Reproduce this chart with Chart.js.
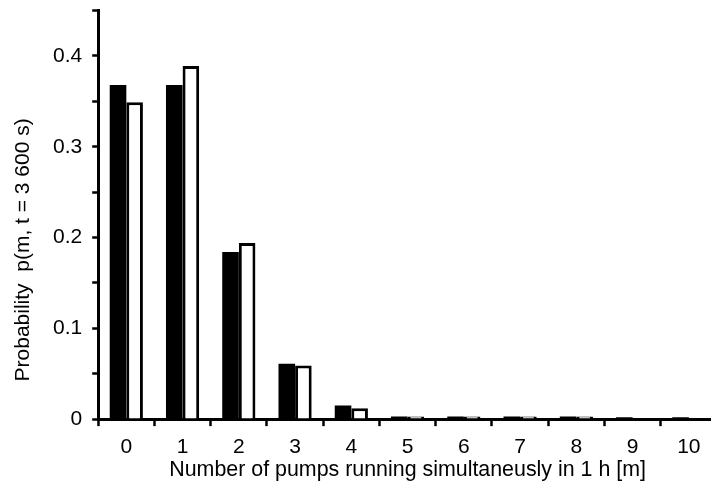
<!DOCTYPE html>
<html>
<head>
<meta charset="utf-8">
<script src="https://cdn.jsdelivr.net/npm/chart.js@4/dist/chart.umd.min.js"></script>
<style>
html,body{margin:0;padding:0;background:#fff;overflow:hidden;}
#wrap{width:711px;height:491px;position:relative;overflow:hidden;}
</style>
</head>
<body>
<div id="wrap"><canvas id="c" width="717" height="491"></canvas></div>
<script>
const categories = ['0','1','2','3','4','5','6','7','8','9','10'];
const seriesBlack = [0.368, 0.368, 0.184, 0.061, 0.015, 0.003, 0.003, 0.003, 0.003, 0.002, 0.002];
const seriesWhite = [0.349, 0.389, 0.194, 0.059, 0.012, 0.003, 0.003, 0.003, 0.003, 0, 0];
const yTickValues = [0, 0.1, 0.2, 0.3, 0.4];
const xTitle = 'Number of pumps running simultaneusly in 1 h [m]';
const yTitle = 'Probability  p(m, t = 3 600 s)';

const FONT = '"Liberation Sans", Arial, sans-serif';
Chart.defaults.font.family = FONT;
Chart.defaults.color = '#000';

function isLabelled(v) {
  const r = Math.round(v * 100) / 100;
  return yTickValues.find(t => Math.abs(t - r) < 1e-9);
}

const yTitlePlugin = {
  id: 'yTitle',
  afterDraw(chart) {
    const ctx = chart.ctx, a = chart.chartArea;
    ctx.save();
    ctx.font = '21px ' + FONT;
    ctx.fillStyle = '#000';
    ctx.textAlign = 'center';
    ctx.textBaseline = 'alphabetic';
    ctx.translate(a.left - 69, (a.top + a.bottom) / 2 + 35);
    ctx.rotate(-Math.PI / 2);
    ctx.fillText(yTitle, 0, 0);
    ctx.restore();
  }
};

new Chart(document.getElementById('c'), {
  type: 'bar',
  data: {
    labels: categories,
    datasets: [
      {data: seriesBlack, backgroundColor: '#000', borderColor: '#000', borderWidth: 0,
       barPercentage: 1.0, categoryPercentage: 0.59},
      {data: seriesWhite, backgroundColor: '#fff', borderColor: '#000', borderWidth: {top:3,left:3,right:3,bottom:0},
       barPercentage: 1.0, categoryPercentage: 0.59}
    ]
  },
  options: {
    responsive: false,
    animation: false,
    layout: {padding: {top: 9, right: 0, left: 43, bottom: 8}},
    plugins: {legend: {display: false}, tooltip: {enabled: false}},
    scales: {
      x: {
        offset: true,
        grid: {offset: true, drawOnChartArea: false, drawTicks: true, tickLength: 7, tickWidth: 2.5, color: '#000'},
        border: {display: true, color: '#000', width: 3},
        ticks: {font: {size: 21}, padding: 8, color: '#000'},
        title: {display: true, text: xTitle, font: {size: 21.4}, padding: {top: -10, bottom: 0}, color: '#000'}
      },
      y: {
        min: 0, max: 0.45,
        grid: {drawOnChartArea: false, drawTicks: true, tickLength: 6, tickWidth: 2.5, color: '#000'},
        border: {display: true, color: '#000', width: 3},
        ticks: {
          stepSize: 0.05, autoSkip: false, padding: 10, color: '#000',
          font: function(c) {
            const v = c.tick ? c.tick.value : 0;
            return {size: v > 0.44 ? 1 : 21};
          },
          callback: function(v) {
            const hit = isLabelled(v);
            return hit === undefined ? '' : (hit === 0 ? '0' : hit.toFixed(1));
          }
        },
        title: {display: false}
      }
    }
  },
  plugins: [yTitlePlugin]
});
</script>
</body>
</html>
